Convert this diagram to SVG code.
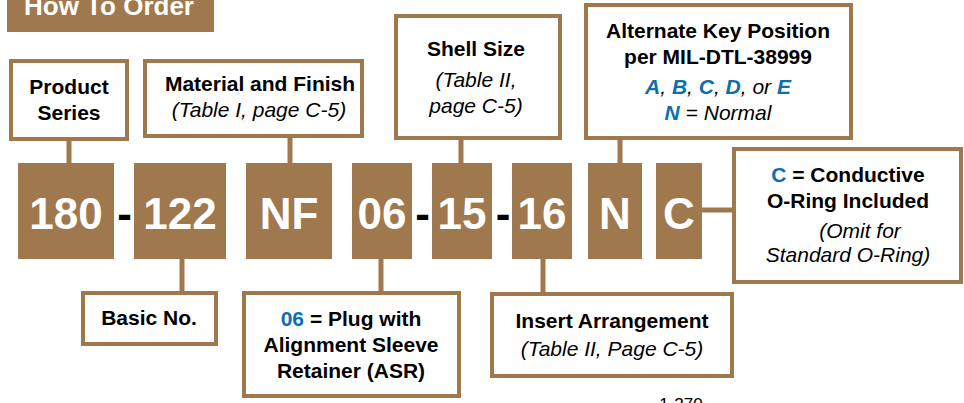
<svg xmlns="http://www.w3.org/2000/svg" width="964" height="403" viewBox="0 0 964 403">
<style>
text{font-family:"Liberation Sans",Arial,sans-serif;}
.lbl{fill:#fff;stroke:#A0784D;stroke-width:4;}
.seg{fill:#A0784D;}
.code{font-size:44px;font-weight:bold;fill:#fff;text-anchor:middle;}
.dash{font-size:44px;font-weight:bold;fill:#000;text-anchor:middle;}
.b{font-size:21px;font-weight:bold;fill:#000;text-anchor:middle;}
.i{font-size:21px;font-style:italic;fill:#000;text-anchor:middle;}
.blue{fill:#0B6FB0;}
.conn{stroke:#A0784D;stroke-width:5;fill:none;}
</style>
<rect width="964" height="403" fill="#fff"/>
<g id="title">
<rect x="7" y="0" width="207" height="32" fill="#A0784D"/>
<text x="109" y="15" font-size="26" font-weight="bold" fill="#fff" text-anchor="middle">How To Order</text>
</g>
<g id="connectors">
<line class="conn" x1="69" y1="140" x2="69" y2="164"/>
<line class="conn" x1="290" y1="137" x2="290" y2="164"/>
<line class="conn" x1="461" y1="139" x2="461" y2="164"/>
<line class="conn" x1="620" y1="139" x2="620" y2="164"/>
<line class="conn" x1="701" y1="210" x2="734" y2="210"/>
<line class="conn" x1="182" y1="258" x2="182" y2="292"/>
<line class="conn" x1="381" y1="258" x2="381" y2="292"/>
<line class="conn" x1="543" y1="258" x2="543" y2="293"/>
</g>
<g id="seg-180"><rect class="seg" x="18" y="163" width="96" height="96"/><text class="code" x="66" y="229">180</text></g>
<text class="dash" x="124.5" y="229">-</text>
<g id="seg-122"><rect class="seg" x="134" y="163" width="92" height="96"/><text class="code" x="180" y="229">122</text></g>
<g id="seg-NF"><rect class="seg" x="246" y="163" width="86" height="96"/><text class="code" x="289" y="229">NF</text></g>
<g id="seg-06"><rect class="seg" x="352" y="163" width="60" height="96"/><text class="code" x="382" y="229">06</text></g>
<text class="dash" x="422.5" y="229">-</text>
<g id="seg-15"><rect class="seg" x="432" y="163" width="60" height="96"/><text class="code" x="462" y="229">15</text></g>
<text class="dash" x="503" y="229">-</text>
<g id="seg-16"><rect class="seg" x="512" y="163" width="60" height="96"/><text class="code" x="542" y="229">16</text></g>
<g id="seg-N"><rect class="seg" x="588" y="163" width="54" height="96"/><text class="code" x="615" y="229">N</text></g>
<g id="seg-C"><rect class="seg" x="656" y="163" width="46" height="96"/><text class="code" x="679" y="229">C</text></g>

<g id="product-series">
<rect class="lbl" x="11" y="61" width="116" height="78"/>
<text class="b" x="69" y="94">Product</text>
<text class="b" x="69" y="120">Series</text>
</g>
<g id="material">
<rect class="lbl" x="145" y="61" width="217" height="75"/>
<text class="b" x="260" y="91">Material and Finish</text>
<text class="i" x="259" y="117">(Table I, page C-5)</text>
</g>
<g id="shell-size">
<rect class="lbl" x="396" y="16" width="164" height="122"/>
<text class="b" x="476" y="56">Shell Size</text>
<text class="i" x="476" y="87">(Table II,</text>
<text class="i" x="476" y="113">page C-5)</text>
</g>
<g id="alt-key">
<rect class="lbl" x="586" y="5" width="265" height="133"/>
<text class="b" x="718" y="38">Alternate Key Position</text>
<text class="b" x="718" y="64">per MIL-DTL-38999</text>
<text class="i" x="718" y="94"><tspan class="blue" font-weight="bold">A</tspan>, <tspan class="blue" font-weight="bold">B</tspan>, <tspan class="blue" font-weight="bold">C</tspan>, <tspan class="blue" font-weight="bold">D</tspan>, or <tspan class="blue" font-weight="bold">E</tspan></text>
<text class="i" x="718" y="120"><tspan class="blue" font-weight="bold">N</tspan> = Normal</text>
</g>
<g id="conductive">
<rect class="lbl" x="734" y="149" width="227" height="133"/>
<text class="b" x="848" y="182"><tspan class="blue">C</tspan> = Conductive</text>
<text class="b" x="848" y="208">O-Ring Included</text>
<text class="i" x="860" y="238">(Omit for</text>
<text class="i" x="848" y="262">Standard O-Ring)</text>
</g>
<g id="basic-no">
<rect class="lbl" x="83" y="293" width="133" height="51"/>
<text class="b" x="149" y="325">Basic No.</text>
</g>
<g id="plug">
<rect class="lbl" x="244" y="293" width="215" height="103"/>
<text class="b" x="351" y="326"><tspan class="blue">06</tspan> = Plug with</text>
<text class="b" x="351" y="352">Alignment Sleeve</text>
<text class="b" x="351" y="378">Retainer (ASR)</text>
</g>
<g id="insert">
<rect class="lbl" x="492" y="294" width="240" height="82"/>
<text class="b" x="612" y="328">Insert Arrangement</text>
<text class="i" x="612" y="356">(Table II, Page C-5)</text>
</g>
<text x="681" y="410" font-size="17" fill="#000" text-anchor="middle">1-270</text>
</svg>
